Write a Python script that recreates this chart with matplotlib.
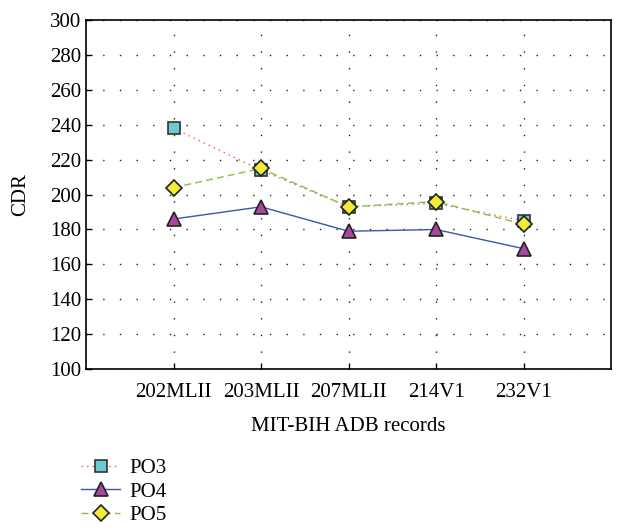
import matplotlib.pyplot as plt

plt.rcParams["font.family"] = ["Liberation Serif", "DejaVu Serif"]

records = ["202MLII", "203MLII", "207MLII", "214V1", "232V1"]
po3 = [238, 214, 193, 195, 185]
po4 = [186, 193, 179, 180, 169]
po5 = [204, 215, 193, 196, 183]

fig = plt.figure(figsize=(6.21, 5.31), dpi=100)
ax = fig.add_axes([0.1385, 0.305, 0.8455, 0.657])

x = list(range(1, len(records) + 1))
ax.plot(x, po3, color="#ff5050", linestyle=(0, (1, 3)), linewidth=1.0,
        marker="s", markersize=8, markerfacecolor="#6ccad4",
        markeredgecolor="#333333", markeredgewidth=1.2, label="PO3")
ax.plot(x, po4, color="#3858a8", linestyle="-", linewidth=1.0,
        marker="^", markersize=10, markerfacecolor="#a8489c",
        markeredgecolor="#222222", markeredgewidth=1.2, label="PO4")
ax.plot(x, po5, color="#7cc44c", linestyle=(0, (5, 3)), linewidth=1.0,
        marker="D", markersize=8, markerfacecolor="#f2ea36",
        markeredgecolor="#222222", markeredgewidth=1.2, label="PO5")

ax.set_xlim(0, 6)
ax.set_ylim(100, 300)
ax.set_xticks(x)
ax.set_xticklabels(records)
ax.set_yticks(range(100, 301, 20))
ax.tick_params(direction="in", length=4, labelsize=15, width=1.0)
ax.tick_params(axis="x", pad=10)
ax.grid(True, color="#222222", linestyle=(0, (1, 11)), linewidth=1.0)
for s in ax.spines.values():
    s.set_linewidth(1.2)

ax.set_xlabel("MIT-BIH ADB records", fontsize=15, labelpad=11)
ax.set_ylabel("CDR", fontsize=15, labelpad=14)

fig.legend(loc="upper left", bbox_to_anchor=(0.13, 0.137), frameon=False,
           fontsize=15, handlelength=1.9, handletextpad=0.45,
           labelspacing=0.2, borderpad=0, borderaxespad=0)

fig.savefig("out.png", dpi=100)
